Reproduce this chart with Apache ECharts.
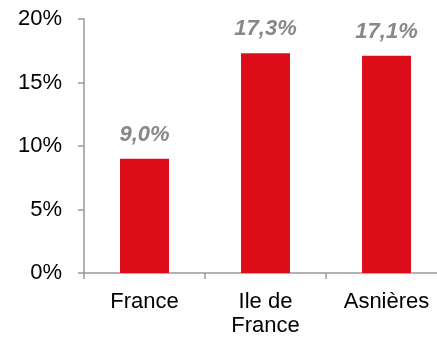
<!DOCTYPE html>
<html><head><meta charset="utf-8">
<script src="https://cdn.jsdelivr.net/npm/echarts@6/dist/echarts.min.js"></script>
<style>html,body{margin:0;padding:0;background:#fff}#c{width:437px;height:341px}</style>
</head><body><div id="c"></div>
<script>
const categories = ['France', 'Ile de\nFrance', 'Asnières'];
const values = [9.0, 17.3, 17.1];
const yTicks = [0, 5, 10, 15, 20];

const chart = echarts.init(document.getElementById('c'), null, {renderer: 'canvas'});
chart.setOption({
  animation: false,
  grid: {left: 84, top: 19, width: 363, height: 254, containLabel: false, outerBoundsMode: 'none'},
  xAxis: {
    type: 'category', data: categories,
    axisLine: {lineStyle: {color: '#999', width: 1.5}},
    axisTick: {show: true, alignWithLabel: false, length: 6, lineStyle: {color: '#999', width: 1.5}},
    axisLabel: {color: '#000', fontSize: 22, fontFamily: 'Liberation Sans, Arial', margin: 17, lineHeight: 24}
  },
  yAxis: {
    type: 'value', min: yTicks[0], max: yTicks[yTicks.length - 1], interval: 5,
    splitLine: {show: false},
    axisLine: {show: true, lineStyle: {color: '#999', width: 1.5}},
    axisTick: {show: true, length: 6, lineStyle: {color: '#999', width: 1.5}},
    axisLabel: {color: '#000', fontSize: 22, fontFamily: 'Liberation Sans, Arial', margin: 22,
      formatter: v => v + '%'}
  },
  series: [{
    type: 'bar', data: values, barWidth: 49,
    itemStyle: {color: '#DC0D18'},
    label: {show: true, position: 'top', distance: 13, color: '#888', fontSize: 22,
      fontWeight: 'bold', fontStyle: 'italic', fontFamily: 'Liberation Sans, Arial',
      formatter: p => p.value.toFixed(1).replace('.', ',') + '%'}
  }]
});
</script></body></html>
